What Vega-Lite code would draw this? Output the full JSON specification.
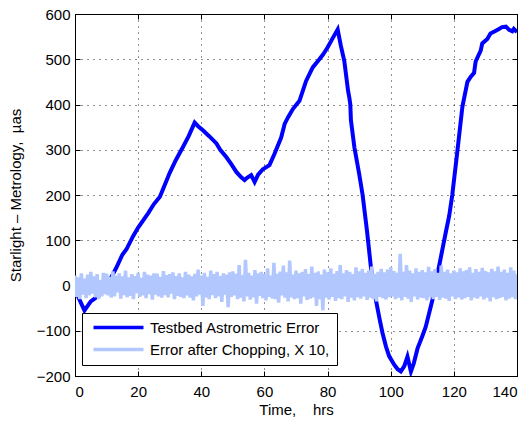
{
  "$schema": "https://vega.github.io/schema/vega-lite/v6.json",
  "width": 442,
  "height": 362,
  "autosize": {"type": "none"},
  "padding": {"left": 75, "top": 14, "right": 15, "bottom": 46},
  "background": "white",
  "config": {
    "font": "Liberation Sans",
    "view": {"stroke": "black", "strokeWidth": 1},
    "axis": {
      "labelFont": "Liberation Sans",
      "titleFont": "Liberation Sans",
      "labelFontSize": 15,
      "titleFontSize": 15,
      "titleFontWeight": "normal",
      "labelColor": "black",
      "titleColor": "black",
      "domainColor": "black",
      "tickColor": "black",
      "tickSize": -5,
      "gridColor": "#222222",
      "gridDash": [1, 5],
      "gridOpacity": 1,
      "gridWidth": 1
    }
  },
  "datasets": {
    "main": [
      {"t": 0, "v": -5}, {"t": 1, "v": -25}, {"t": 2, "v": -40}, {"t": 3, "v": -55}, {"t": 4, "v": -45},
      {"t": 5, "v": -35}, {"t": 6, "v": -30}, {"t": 7, "v": -25}, {"t": 8, "v": -18}, {"t": 10, "v": 0},
      {"t": 12, "v": 25}, {"t": 13, "v": 38}, {"t": 15, "v": 68}, {"t": 16.3, "v": 80}, {"t": 18.4, "v": 109},
      {"t": 20, "v": 128}, {"t": 23.2, "v": 160}, {"t": 25, "v": 180}, {"t": 26.9, "v": 196}, {"t": 28, "v": 215},
      {"t": 30, "v": 249}, {"t": 32, "v": 278}, {"t": 34.2, "v": 306}, {"t": 36, "v": 330}, {"t": 37.9, "v": 360},
      {"t": 39, "v": 352}, {"t": 40.5, "v": 343}, {"t": 42.5, "v": 330}, {"t": 44.8, "v": 314}, {"t": 46, "v": 300},
      {"t": 47.9, "v": 284}, {"t": 49.5, "v": 268}, {"t": 51.1, "v": 251}, {"t": 52.5, "v": 240}, {"t": 53.7, "v": 233},
      {"t": 54.5, "v": 238}, {"t": 55.8, "v": 244}, {"t": 56.9, "v": 229}, {"t": 58, "v": 245}, {"t": 59.5, "v": 257},
      {"t": 61.6, "v": 266}, {"t": 63.2, "v": 291}, {"t": 65.3, "v": 327}, {"t": 66.4, "v": 357}, {"t": 67.5, "v": 372},
      {"t": 69, "v": 390}, {"t": 71.1, "v": 408}, {"t": 73.2, "v": 452}, {"t": 75.3, "v": 482}, {"t": 77.4, "v": 500},
      {"t": 78.5, "v": 510}, {"t": 80, "v": 526}, {"t": 81.5, "v": 545}, {"t": 83.2, "v": 566}, {"t": 84.2, "v": 530},
      {"t": 85.3, "v": 496}, {"t": 86.5, "v": 430}, {"t": 86.9, "v": 415}, {"t": 87.2, "v": 400}, {"t": 87.4, "v": 365},
      {"t": 88.5, "v": 305}, {"t": 90, "v": 247}, {"t": 91.1, "v": 200}, {"t": 92.5, "v": 120}, {"t": 93.7, "v": 42},
      {"t": 95.3, "v": -32}, {"t": 96.5, "v": -75}, {"t": 97.4, "v": -105}, {"t": 98.5, "v": -135}, {"t": 99.5, "v": -156},
      {"t": 101.1, "v": -175}, {"t": 102.2, "v": -185}, {"t": 103.2, "v": -190}, {"t": 104.3, "v": -178}, {"t": 105.3, "v": -157},
      {"t": 106.4, "v": -190}, {"t": 107.3, "v": -172}, {"t": 108.5, "v": -139}, {"t": 110, "v": -112}, {"t": 111.1, "v": -91},
      {"t": 113.2, "v": -32}, {"t": 115.3, "v": 42}, {"t": 117.4, "v": 116}, {"t": 118.5, "v": 153}, {"t": 119.5, "v": 200},
      {"t": 121, "v": 290}, {"t": 122.7, "v": 395}, {"t": 124.3, "v": 450}, {"t": 125.3, "v": 461}, {"t": 126.4, "v": 470},
      {"t": 126.9, "v": 495}, {"t": 128.5, "v": 519}, {"t": 129, "v": 535}, {"t": 130.6, "v": 545}, {"t": 131.6, "v": 557},
      {"t": 133, "v": 562}, {"t": 134.3, "v": 567}, {"t": 135.3, "v": 571}, {"t": 136.5, "v": 572}, {"t": 137.5, "v": 565},
      {"t": 138.5, "v": 562}, {"t": 139, "v": 567}, {"t": 140, "v": 560}
    ],
    "chop": [
      {"t": 0, "v": 22}, {"t": 0.5, "v": -25}, {"t": 1, "v": 18}, {"t": 1.5, "v": -30}, {"t": 2, "v": 27}, {"t": 2.5, "v": -20}, {"t": 3, "v": 15}, {"t": 3.5, "v": -28}, {"t": 4, "v": 24}, {"t": 4.5, "v": -22},
      {"t": 5, "v": 30}, {"t": 5.5, "v": -18}, {"t": 6, "v": 20}, {"t": 6.5, "v": -26}, {"t": 7, "v": 25}, {"t": 7.5, "v": -30}, {"t": 8, "v": 12}, {"t": 8.5, "v": -24}, {"t": 9, "v": 28}, {"t": 9.5, "v": -19},
      {"t": 10, "v": 26}, {"t": 10.5, "v": -22}, {"t": 11, "v": 19}, {"t": 11.5, "v": -27}, {"t": 12, "v": 31}, {"t": 12.5, "v": -24}, {"t": 13, "v": 22}, {"t": 13.5, "v": -15}, {"t": 14, "v": 27}, {"t": 14.5, "v": -29},
      {"t": 15, "v": 20}, {"t": 15.5, "v": -21}, {"t": 16, "v": 33}, {"t": 16.5, "v": -26}, {"t": 17, "v": 18}, {"t": 17.5, "v": -23}, {"t": 18, "v": 25}, {"t": 18.5, "v": -30}, {"t": 19, "v": 21}, {"t": 19.5, "v": -17},
      {"t": 20, "v": 28}, {"t": 20.5, "v": -25}, {"t": 21, "v": 17}, {"t": 21.5, "v": -22}, {"t": 22, "v": 30}, {"t": 22.5, "v": -28}, {"t": 23, "v": 24}, {"t": 23.5, "v": -19}, {"t": 24, "v": 22}, {"t": 24.5, "v": -31},
      {"t": 25, "v": 27}, {"t": 25.5, "v": -20}, {"t": 26, "v": 26}, {"t": 26.5, "v": -24}, {"t": 27, "v": 19}, {"t": 27.5, "v": -27}, {"t": 28, "v": 32}, {"t": 28.5, "v": -21}, {"t": 29, "v": 23}, {"t": 29.5, "v": -26},
      {"t": 30, "v": 25}, {"t": 30.5, "v": -18}, {"t": 31, "v": 29}, {"t": 31.5, "v": -30}, {"t": 32, "v": 21}, {"t": 32.5, "v": -23}, {"t": 33, "v": 27}, {"t": 33.5, "v": -25}, {"t": 34, "v": 18}, {"t": 34.5, "v": -28},
      {"t": 35, "v": 30}, {"t": 35.5, "v": -22}, {"t": 36, "v": 24}, {"t": 36.5, "v": -27}, {"t": 37, "v": 20}, {"t": 37.5, "v": -33}, {"t": 38, "v": 26}, {"t": 38.5, "v": -24}, {"t": 39, "v": 35}, {"t": 39.5, "v": -20},
      {"t": 40, "v": 22}, {"t": 40.5, "v": -45}, {"t": 41, "v": 28}, {"t": 41.5, "v": -26}, {"t": 42, "v": 19}, {"t": 42.5, "v": -30}, {"t": 43, "v": 33}, {"t": 43.5, "v": -21}, {"t": 44, "v": 25}, {"t": 44.5, "v": -28},
      {"t": 45, "v": 30}, {"t": 45.5, "v": -24}, {"t": 46, "v": 21}, {"t": 46.5, "v": -36}, {"t": 47, "v": 27}, {"t": 47.5, "v": -20}, {"t": 48, "v": 24}, {"t": 48.5, "v": -48}, {"t": 49, "v": 29}, {"t": 49.5, "v": -25},
      {"t": 50, "v": 31}, {"t": 50.5, "v": -22}, {"t": 51, "v": 26}, {"t": 51.5, "v": -30}, {"t": 52, "v": 45}, {"t": 52.5, "v": -27}, {"t": 53, "v": 23}, {"t": 53.5, "v": -35}, {"t": 54, "v": 57}, {"t": 54.5, "v": -24},
      {"t": 55, "v": 28}, {"t": 55.5, "v": -31}, {"t": 56, "v": 22}, {"t": 56.5, "v": -26}, {"t": 57, "v": 34}, {"t": 57.5, "v": -40}, {"t": 58, "v": 27}, {"t": 58.5, "v": -23}, {"t": 59, "v": 30}, {"t": 59.5, "v": -28},
      {"t": 60, "v": 25}, {"t": 60.5, "v": -33}, {"t": 61, "v": 38}, {"t": 61.5, "v": -25}, {"t": 62, "v": 22}, {"t": 62.5, "v": -29}, {"t": 63, "v": 50}, {"t": 63.5, "v": -30}, {"t": 64, "v": 26}, {"t": 64.5, "v": -38},
      {"t": 65, "v": 31}, {"t": 65.5, "v": -22}, {"t": 66, "v": 44}, {"t": 66.5, "v": -27}, {"t": 67, "v": 29}, {"t": 67.5, "v": -35}, {"t": 68, "v": 55}, {"t": 68.5, "v": -26}, {"t": 69, "v": 24}, {"t": 69.5, "v": -30},
      {"t": 70, "v": 33}, {"t": 70.5, "v": -28}, {"t": 71, "v": 27}, {"t": 71.5, "v": -40}, {"t": 72, "v": 30}, {"t": 72.5, "v": -24}, {"t": 73, "v": 36}, {"t": 73.5, "v": -32}, {"t": 74, "v": 25}, {"t": 74.5, "v": -29},
      {"t": 75, "v": 42}, {"t": 75.5, "v": -26}, {"t": 76, "v": 28}, {"t": 76.5, "v": -45}, {"t": 77, "v": 31}, {"t": 77.5, "v": -30}, {"t": 78, "v": 24}, {"t": 78.5, "v": -55}, {"t": 79, "v": 35}, {"t": 79.5, "v": -27},
      {"t": 80, "v": 29}, {"t": 80.5, "v": -31}, {"t": 81, "v": 38}, {"t": 81.5, "v": -25}, {"t": 82, "v": 26}, {"t": 82.5, "v": -34}, {"t": 83, "v": 32}, {"t": 83.5, "v": -28}, {"t": 84, "v": 45}, {"t": 84.5, "v": -30},
      {"t": 85, "v": 27}, {"t": 85.5, "v": -24}, {"t": 86, "v": 34}, {"t": 86.5, "v": -36}, {"t": 87, "v": 30}, {"t": 87.5, "v": -27}, {"t": 88, "v": 25}, {"t": 88.5, "v": -33}, {"t": 89, "v": 40}, {"t": 89.5, "v": -26},
      {"t": 90, "v": 31}, {"t": 90.5, "v": -29}, {"t": 91, "v": 36}, {"t": 91.5, "v": -24}, {"t": 92, "v": 28}, {"t": 92.5, "v": -32}, {"t": 93, "v": 33}, {"t": 93.5, "v": -27}, {"t": 94, "v": 42}, {"t": 94.5, "v": -30},
      {"t": 95, "v": 26}, {"t": 95.5, "v": -35}, {"t": 96, "v": 30}, {"t": 96.5, "v": -25}, {"t": 97, "v": 37}, {"t": 97.5, "v": -28}, {"t": 98, "v": 29}, {"t": 98.5, "v": -31}, {"t": 99, "v": 35}, {"t": 99.5, "v": -26},
      {"t": 100, "v": 40}, {"t": 100.5, "v": -24}, {"t": 101, "v": 32}, {"t": 101.5, "v": -30}, {"t": 102, "v": 28}, {"t": 102.5, "v": -27}, {"t": 103, "v": 70}, {"t": 103.5, "v": -33}, {"t": 104, "v": 30}, {"t": 104.5, "v": -25},
      {"t": 105, "v": 45}, {"t": 105.5, "v": -29}, {"t": 106, "v": 33}, {"t": 106.5, "v": -36}, {"t": 107, "v": 27}, {"t": 107.5, "v": -24}, {"t": 108, "v": 38}, {"t": 108.5, "v": -31}, {"t": 109, "v": 30}, {"t": 109.5, "v": -27},
      {"t": 110, "v": 34}, {"t": 110.5, "v": -28}, {"t": 111, "v": 29}, {"t": 111.5, "v": -33}, {"t": 112, "v": 41}, {"t": 112.5, "v": -26}, {"t": 113, "v": 31}, {"t": 113.5, "v": -30}, {"t": 114, "v": 36}, {"t": 114.5, "v": -25},
      {"t": 115, "v": 28}, {"t": 115.5, "v": -32}, {"t": 116, "v": 44}, {"t": 116.5, "v": -27}, {"t": 117, "v": 30}, {"t": 117.5, "v": -29}, {"t": 118, "v": 35}, {"t": 118.5, "v": -34}, {"t": 119, "v": 27}, {"t": 119.5, "v": -24},
      {"t": 120, "v": 33}, {"t": 120.5, "v": -30}, {"t": 121, "v": 29}, {"t": 121.5, "v": -26}, {"t": 122, "v": 38}, {"t": 122.5, "v": -31}, {"t": 123, "v": 31}, {"t": 123.5, "v": -28}, {"t": 124, "v": 34}, {"t": 124.5, "v": -25},
      {"t": 125, "v": 40}, {"t": 125.5, "v": -33}, {"t": 126, "v": 28}, {"t": 126.5, "v": -27}, {"t": 127, "v": 36}, {"t": 127.5, "v": -29}, {"t": 128, "v": 30}, {"t": 128.5, "v": -24}, {"t": 129, "v": 39}, {"t": 129.5, "v": -31},
      {"t": 130, "v": 32}, {"t": 130.5, "v": -27}, {"t": 131, "v": 29}, {"t": 131.5, "v": -35}, {"t": 132, "v": 37}, {"t": 132.5, "v": -26}, {"t": 133, "v": 31}, {"t": 133.5, "v": -30}, {"t": 134, "v": 42}, {"t": 134.5, "v": -28},
      {"t": 135, "v": 30}, {"t": 135.5, "v": -25}, {"t": 136, "v": 35}, {"t": 136.5, "v": -33}, {"t": 137, "v": 28}, {"t": 137.5, "v": -29}, {"t": 138, "v": 40}, {"t": 138.5, "v": -26}, {"t": 139, "v": 33}, {"t": 139.5, "v": -30},
      {"t": 140, "v": 25}
    ]
  },
  "layer": [
    {
      "data": {"name": "main"},
      "mark": {"type": "line", "strokeWidth": 4, "clip": true},
      "encoding": {
        "x": {
          "field": "t", "type": "quantitative",
          "scale": {"domain": [0, 140], "nice": false},
          "axis": {"values": [0, 20, 40, 60, 80, 100, 120, 140], "title": "Time,\u00a0\u00a0\u00a0\u00a0hrs", "labelPadding": 13, "titlePadding": 3, "grid": true, "orient": "bottom"}
        },
        "y": {
          "field": "v", "type": "quantitative",
          "scale": {"domain": [-200, 600], "nice": false},
          "axis": {"values": [-200, -100, 0, 100, 200, 300, 400, 500, 600], "title": "Starlight \u2013 Metrology,\u00a0\u00a0\u00b5as", "labelPadding": 10, "titlePadding": 13, "grid": true, "orient": "left"}
        },
        "color": {
          "datum": "Testbed Astrometric Error",
          "type": "nominal",
          "scale": {"domain": ["Testbed Astrometric Error", "Error after Chopping, X 10,"], "range": ["#0000ff", "#b3c7ff"]},
          "legend": {
            "title": null,
            "orient": "none",
            "legendX": 7,
            "legendY": 299,
            "fillColor": "white",
            "strokeColor": "black",
            "padding": 7,
            "rowPadding": 6,
            "symbolType": "M-5,0H5",
            "symbolSize": 100,
            "symbolOffset": 22,
            "symbolStrokeWidth": 3.5,
            "labelFontSize": 15,
            "labelFont": "Liberation Sans",
            "labelColor": "black",
            "labelOffset": 24,
            "labelLimit": 0
          }
        }
      }
    },
    {
      "data": {"name": "chop"},
      "mark": {"type": "line", "strokeWidth": 3.5, "clip": true},
      "encoding": {
        "x": {"field": "t", "type": "quantitative", "axis": {"orient": "top", "values": [0, 20, 40, 60, 80, 100, 120, 140], "labels": false, "title": null, "grid": false}},
        "y": {"field": "v", "type": "quantitative", "axis": {"orient": "right", "values": [-200, -100, 0, 100, 200, 300, 400, 500, 600], "labels": false, "title": null, "grid": false}},
        "color": {"datum": "Error after Chopping, X 10,", "type": "nominal"}
      }
    }
  ],
  "resolve": {"axis": {"x": "independent", "y": "independent"}}
}
